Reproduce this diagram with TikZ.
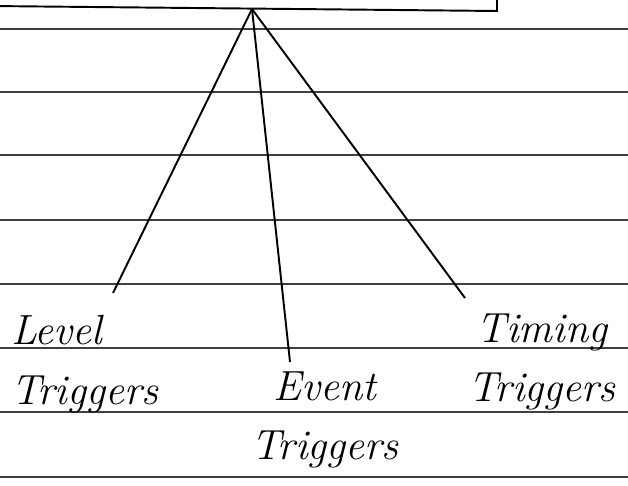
\documentclass[tikz,border=0pt]{standalone}
\usepackage{tikz}
\usetikzlibrary{positioning}
\tikzset{
  rule/.style={draw=black!75, line width=1pt},
  branch/.style={draw=black, line width=1.1pt},
  lbl/.style={font=\fontsize{24}{34}\selectfont\itshape, align=center, inner sep=1pt}
}
\begin{document}
\begin{tikzpicture}[x=0.02cm, y=-0.02cm]
  \useasboundingbox (0,0) rectangle (628,486);
  \fill[white] (0,0) rectangle (628,486);
  % ruled lines of the page
  \foreach \y in {29, 92, 155, 220, 284, 348, 412, 477}
    \draw[rule] (0,\y) -- (628,\y);
  % bottom of the top box
  \draw[branch] (-10,-20) -- (-10,6) -- (497,11) -- (497,-20);
  \coordinate (top) at (252,9);
  % three kinds
  \node[lbl, align=left] (level) at (85,364) {Level\\Triggers};
  \node[lbl] (event) at (325,420) {Event\\Triggers};
  \node[lbl] (timing) at (542,362) {Timing\\Triggers};
  \coordinate (levelend) at (113,293);
  \coordinate (eventend) at (290,362);
  \coordinate (timingend) at (465,298);
  \foreach \e in {levelend, eventend, timingend} \draw[branch] (top) -- (\e);
\end{tikzpicture}
\end{document}
